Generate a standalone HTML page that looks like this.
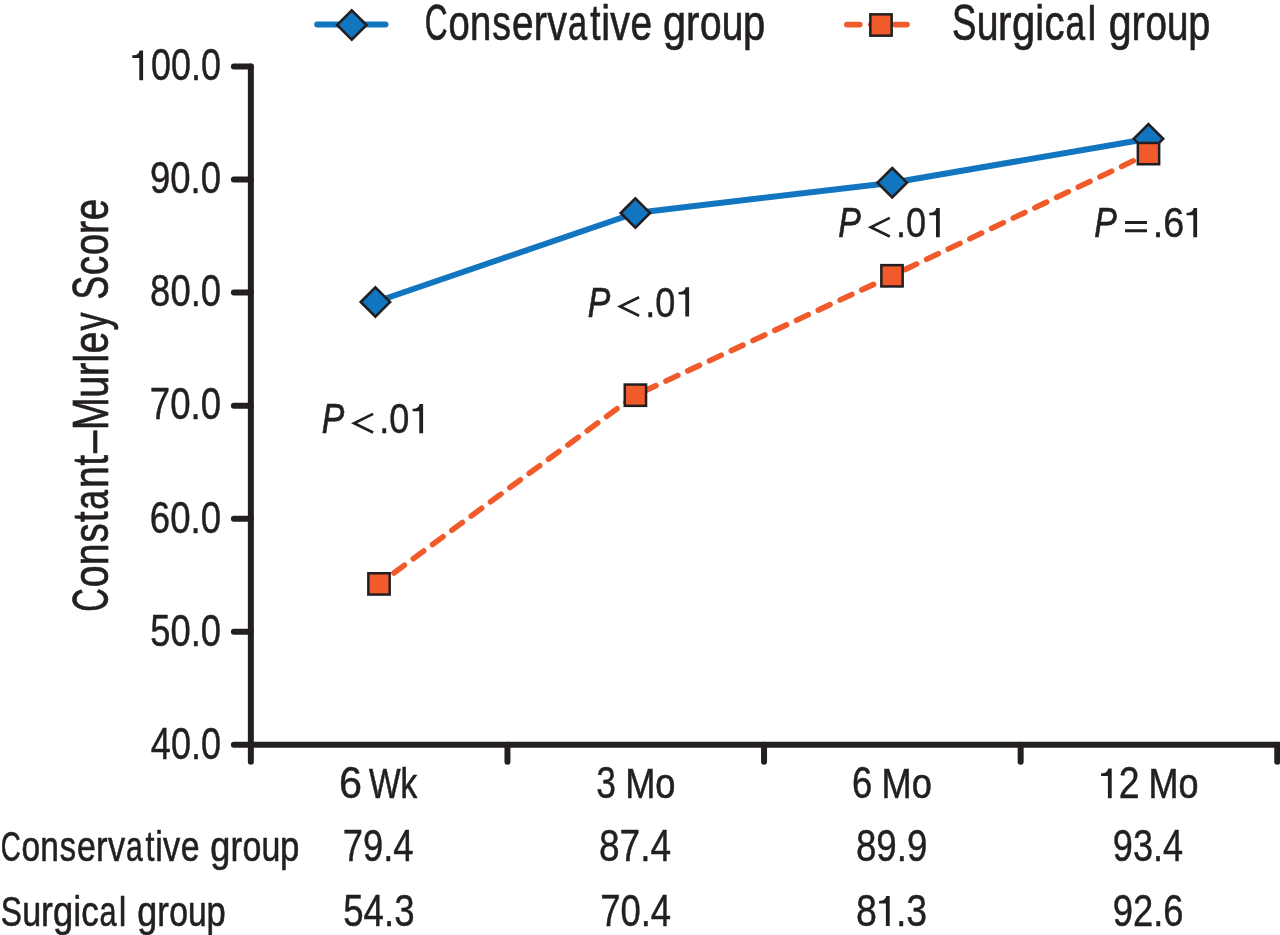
<!DOCTYPE html>
<html><head><meta charset="utf-8"><title>Constant-Murley Score</title>
<style>
html,body{margin:0;padding:0;background:#fff;}
body{width:1280px;height:935px;overflow:hidden;}
svg{display:block;will-change:transform;}
text{font-family:"Liberation Sans",sans-serif;fill:#231f20;}
.ax path{stroke:#231f20;stroke-width:6;stroke-linecap:round;fill:none;}
</style></head><body>
<svg width="1280" height="935" viewBox="0 0 1280 935">
<rect width="1280" height="935" fill="#fff"/>
<g class="ax">
<path d="M250.85 66.5V761.8" />
<path d="M250.85 744.8H1290" stroke-linecap="butt"/>
<path d="M233.9 66.50H250.85"/>
<path d="M233.9 179.55H250.85"/>
<path d="M233.9 292.60H250.85"/>
<path d="M233.9 405.65H250.85"/>
<path d="M233.9 518.70H250.85"/>
<path d="M233.9 631.75H250.85"/>
<path d="M233.9 744.80H250.85"/>
<path d="M507.45 744.8V761.8"/>
<path d="M764.05 744.8V761.8"/>
<path d="M1020.65 744.8V761.8"/>
<path d="M1277.25 744.8V761.8"/>
</g>
<g>
<polyline points="375.4,302.0 635.4,213.0 892.2,182.7 1148.5,138.8" fill="none" stroke="#1275c0" stroke-width="6" stroke-linejoin="round"/>
<path d="M379 583.9L635.4 395.2" fill="none" stroke="#f15a2a" stroke-width="5.6" stroke-linecap="round" stroke-dasharray="13 11" stroke-dashoffset="5.5"/>
<path d="M635.4 395.2L892 275.8" fill="none" stroke="#f15a2a" stroke-width="5.6" stroke-linecap="round" stroke-dasharray="13 11" stroke-dashoffset="14.3"/>
<path d="M892 275.8L1148.5 153.6" fill="none" stroke="#f15a2a" stroke-width="5.6" stroke-linecap="round" stroke-dasharray="13 11" stroke-dashoffset="9.7"/>
<path d="M375.4 287.3L390.09999999999997 302.0L375.4 316.7L360.7 302.0Z" fill="#1275c0" stroke="#231f20" stroke-width="2.6" stroke-linejoin="miter"/>
<path d="M635.4 198.3L650.1 213.0L635.4 227.7L620.6999999999999 213.0Z" fill="#1275c0" stroke="#231f20" stroke-width="2.6" stroke-linejoin="miter"/>
<path d="M892.2 168.0L906.9000000000001 182.7L892.2 197.39999999999998L877.5 182.7Z" fill="#1275c0" stroke="#231f20" stroke-width="2.6" stroke-linejoin="miter"/>
<path d="M1148.5 124.10000000000001L1163.2 138.8L1148.5 153.5L1133.8 138.8Z" fill="#1275c0" stroke="#231f20" stroke-width="2.6" stroke-linejoin="miter"/>
<rect x="368.35" y="573.25" width="21.3" height="21.3" fill="#f15a2a" stroke="#231f20" stroke-width="2.5"/>
<rect x="624.75" y="384.55" width="21.3" height="21.3" fill="#f15a2a" stroke="#231f20" stroke-width="2.5"/>
<rect x="881.35" y="265.15000000000003" width="21.3" height="21.3" fill="#f15a2a" stroke="#231f20" stroke-width="2.5"/>
<rect x="1137.85" y="142.95" width="21.3" height="21.3" fill="#f15a2a" stroke="#231f20" stroke-width="2.5"/>
<path d="M317.2 24.6H385.5" stroke="#1275c0" stroke-width="6" stroke-linecap="round" fill="none"/>
<path d="M351.8 10.3L366.5 25L351.8 39.7L337.1 25Z" fill="#1275c0" stroke="#231f20" stroke-width="2.6" stroke-linejoin="miter"/>
<path d="M846.8 24.6H907" stroke="#f15a2a" stroke-width="5.6" stroke-linecap="round" stroke-dasharray="13 11" fill="none"/>
<rect x="870.35" y="14.35" width="21.3" height="21.3" fill="#f15a2a" stroke="#231f20" stroke-width="2.5"/>
</g>
<g>
<path d="M143.10 80.30V50.40H139.60C139.09 53.39 137.20 55.33 132.30 55.33V57.88H139.30V80.30Z" fill="#231f20"/>
<text transform="translate(151.10,80.30) scale(0.8257,1)" font-size="43.5" stroke="#231f20" stroke-width="0.45">00.0</text>
<text transform="translate(149.99,193.35) scale(0.8390,1)" font-size="43.5" stroke="#231f20" stroke-width="0.45">90.0</text>
<text transform="translate(150.12,306.40) scale(0.8375,1)" font-size="43.5" stroke="#231f20" stroke-width="0.45">80.0</text>
<text transform="translate(149.82,419.45) scale(0.8410,1)" font-size="43.5" stroke="#231f20" stroke-width="0.45">70.0</text>
<text transform="translate(149.84,532.50) scale(0.8408,1)" font-size="43.5" stroke="#231f20" stroke-width="0.45">60.0</text>
<text transform="translate(150.24,645.55) scale(0.8360,1)" font-size="43.5" stroke="#231f20" stroke-width="0.45">50.0</text>
<text transform="translate(150.87,758.60) scale(0.8284,1)" font-size="43.5" stroke="#231f20" stroke-width="0.45">40.0</text>
<text transform="translate(339.10,798.30) scale(0.9516,1)" font-size="43.5" stroke="#231f20" stroke-width="0.45">6</text>
<text transform="translate(368.95,798.30) scale(0.7795,1)" font-size="43"><tspan stroke="#231f20" stroke-width="0.6">Wk</tspan></text>
<text transform="translate(596.25,798.30) scale(0.8146,1)" font-size="43.5" stroke="#231f20" stroke-width="0.45">3</text>
<text transform="translate(625.13,798.30) scale(0.8419,1)" font-size="43"><tspan stroke="#231f20" stroke-width="0.6">Mo</tspan></text>
<text transform="translate(852.05,798.30) scale(0.8370,1)" font-size="43.5" stroke="#231f20" stroke-width="0.45">6</text>
<text transform="translate(881.54,798.30) scale(0.8401,1)" font-size="43"><tspan stroke="#231f20" stroke-width="0.6">Mo</tspan></text>
<path d="M1111.70 798.30V768.40H1108.20C1107.70 771.39 1105.86 773.33 1101.10 773.33V775.88H1107.90V798.30Z" fill="#231f20"/>
<text transform="translate(1118.87,798.30) scale(0.8604,1)" font-size="43.5" stroke="#231f20" stroke-width="0.45">2</text>
<text transform="translate(1148.45,798.30) scale(0.8364,1)" font-size="43"><tspan stroke="#231f20" stroke-width="0.6">Mo</tspan></text>
<text transform="translate(0.73,861.30) scale(0.6474,1)" font-size="42.8" stroke="#231f20" stroke-width="0.6">C</text>
<text transform="translate(21.55,861.30) scale(0.7822,1)" font-size="42.8" stroke="#231f20" stroke-width="0.6">o</text>
<text transform="translate(40.33,861.30) scale(0.7832,1)" font-size="42.8" stroke="#231f20" stroke-width="0.6">n</text>
<text transform="translate(59.76,861.30) scale(0.7630,1)" font-size="42.8" stroke="#231f20" stroke-width="0.6">s</text>
<text transform="translate(77.00,861.30) scale(0.7914,1)" font-size="42.8" stroke="#231f20" stroke-width="0.6">e</text>
<text transform="translate(95.99,861.30) scale(0.8098,1)" font-size="42.8" stroke="#231f20" stroke-width="0.6">r</text>
<text transform="translate(107.93,861.30) scale(0.8025,1)" font-size="42.8" stroke="#231f20" stroke-width="0.6">v</text>
<text transform="translate(126.02,861.30) scale(0.7031,1)" font-size="42.8" stroke="#231f20" stroke-width="0.6">a</text>
<text transform="translate(145.45,861.30) scale(0.7529,1)" font-size="42.8" stroke="#231f20" stroke-width="0.6">t</text>
<text transform="translate(155.14,861.30) scale(0.8000,1)" font-size="42.8" stroke="#231f20" stroke-width="0.6">i</text>
<text transform="translate(162.97,861.30) scale(0.8025,1)" font-size="42.8" stroke="#231f20" stroke-width="0.6">v</text>
<text transform="translate(180.73,861.30) scale(0.7914,1)" font-size="42.8" stroke="#231f20" stroke-width="0.6">e</text>
<text transform="translate(210.32,861.30) scale(0.8447,1)" font-size="42.8" stroke="#231f20" stroke-width="0.6">g</text>
<text transform="translate(230.39,861.30) scale(0.8196,1)" font-size="42.8" stroke="#231f20" stroke-width="0.6">r</text>
<text transform="translate(242.49,861.30) scale(0.7915,1)" font-size="42.8" stroke="#231f20" stroke-width="0.6">o</text>
<text transform="translate(261.53,861.30) scale(0.7925,1)" font-size="42.8" stroke="#231f20" stroke-width="0.6">u</text>
<text transform="translate(280.08,861.30) scale(0.8127,1)" font-size="42.8" stroke="#231f20" stroke-width="0.6">p</text>
<text transform="translate(342.84,861.30) scale(0.8354,1)" font-size="43.5" stroke="#231f20" stroke-width="0.45">79.4</text>
<text transform="translate(598.99,861.30) scale(0.8515,1)" font-size="43.5" stroke="#231f20" stroke-width="0.45">87.4</text>
<text transform="translate(855.91,861.30) scale(0.8437,1)" font-size="43.5" stroke="#231f20" stroke-width="0.45">89.9</text>
<text transform="translate(1112.81,861.30) scale(0.8297,1)" font-size="43.5" stroke="#231f20" stroke-width="0.45">93.4</text>
<text transform="translate(0.79,926.00) scale(0.7438,1)" font-size="42.8" stroke="#231f20" stroke-width="0.6">S</text>
<text transform="translate(22.29,926.00) scale(0.7982,1)" font-size="42.8" stroke="#231f20" stroke-width="0.6">u</text>
<text transform="translate(40.88,926.00) scale(0.8257,1)" font-size="42.8" stroke="#231f20" stroke-width="0.6">r</text>
<text transform="translate(52.96,926.00) scale(0.8508,1)" font-size="42.8" stroke="#231f20" stroke-width="0.6">g</text>
<text transform="translate(73.43,926.00) scale(0.8000,1)" font-size="42.8" stroke="#231f20" stroke-width="0.6">i</text>
<text transform="translate(81.31,926.00) scale(0.8153,1)" font-size="42.8" stroke="#231f20" stroke-width="0.6">c</text>
<text transform="translate(99.58,926.00) scale(0.7166,1)" font-size="42.8" stroke="#231f20" stroke-width="0.6">a</text>
<text transform="translate(118.79,926.00) scale(0.8000,0.955)" font-size="42.8" stroke="#231f20" stroke-width="0.6">l</text>
<text transform="translate(137.23,926.00) scale(0.8387,1)" font-size="42.8" stroke="#231f20" stroke-width="0.6">g</text>
<text transform="translate(157.16,926.00) scale(0.8137,1)" font-size="42.8" stroke="#231f20" stroke-width="0.6">r</text>
<text transform="translate(169.17,926.00) scale(0.7858,1)" font-size="42.8" stroke="#231f20" stroke-width="0.6">o</text>
<text transform="translate(188.08,926.00) scale(0.7868,1)" font-size="42.8" stroke="#231f20" stroke-width="0.6">u</text>
<text transform="translate(206.50,926.00) scale(0.8069,1)" font-size="42.8" stroke="#231f20" stroke-width="0.6">p</text>
<text transform="translate(343.23,926.00) scale(0.8431,1)" font-size="43.5" stroke="#231f20" stroke-width="0.45">54.3</text>
<text transform="translate(600.13,926.00) scale(0.8379,1)" font-size="43.5" stroke="#231f20" stroke-width="0.45">70.4</text>
<text transform="translate(855.97,926.00) scale(0.8622,1)" font-size="43.5" stroke="#231f20" stroke-width="0.45">8</text>
<path d="M889.70 926.00V896.10H886.20C885.70 899.09 883.86 901.03 879.10 901.03V903.58H885.90V926.00Z" fill="#231f20"/>
<text transform="translate(895.88,926.00) scale(0.8620,1)" font-size="43.5" stroke="#231f20" stroke-width="0.45">.3</text>
<text transform="translate(1112.79,926.00) scale(0.8363,1)" font-size="43.5" stroke="#231f20" stroke-width="0.45">92.6</text>
<text transform="translate(424.77,40.10) scale(0.6395,1)" font-size="49.5" stroke="#231f20" stroke-width="0.7">C</text>
<text transform="translate(448.57,40.10) scale(0.7726,1)" font-size="49.5" stroke="#231f20" stroke-width="0.7">o</text>
<text transform="translate(470.03,40.10) scale(0.7735,1)" font-size="49.5" stroke="#231f20" stroke-width="0.7">n</text>
<text transform="translate(492.24,40.10) scale(0.7536,1)" font-size="49.5" stroke="#231f20" stroke-width="0.7">s</text>
<text transform="translate(511.95,40.10) scale(0.7817,1)" font-size="49.5" stroke="#231f20" stroke-width="0.7">e</text>
<text transform="translate(533.66,40.10) scale(0.7995,1)" font-size="49.5" stroke="#231f20" stroke-width="0.7">r</text>
<text transform="translate(547.31,40.10) scale(0.7927,1)" font-size="49.5" stroke="#231f20" stroke-width="0.7">v</text>
<text transform="translate(567.98,40.10) scale(0.6945,1)" font-size="49.5" stroke="#231f20" stroke-width="0.7">a</text>
<text transform="translate(590.19,40.10) scale(0.7433,1)" font-size="49.5" stroke="#231f20" stroke-width="0.7">t</text>
<text transform="translate(601.21,40.10) scale(0.8000,1)" font-size="49.5" stroke="#231f20" stroke-width="0.7">i</text>
<text transform="translate(610.23,40.10) scale(0.7927,1)" font-size="49.5" stroke="#231f20" stroke-width="0.7">v</text>
<text transform="translate(630.52,40.10) scale(0.7817,1)" font-size="49.5" stroke="#231f20" stroke-width="0.7">e</text>
<text transform="translate(663.04,40.10) scale(0.8371,1)" font-size="49.5" stroke="#231f20" stroke-width="0.7">g</text>
<text transform="translate(686.05,40.10) scale(0.8119,1)" font-size="49.5" stroke="#231f20" stroke-width="0.7">r</text>
<text transform="translate(699.92,40.10) scale(0.7843,1)" font-size="49.5" stroke="#231f20" stroke-width="0.7">o</text>
<text transform="translate(721.75,40.10) scale(0.7852,1)" font-size="49.5" stroke="#231f20" stroke-width="0.7">u</text>
<text transform="translate(743.02,40.10) scale(0.8053,1)" font-size="49.5" stroke="#231f20" stroke-width="0.7">p</text>
<text transform="translate(952.02,40.10) scale(0.7378,1)" font-size="49.5" stroke="#231f20" stroke-width="0.7">S</text>
<text transform="translate(976.69,40.10) scale(0.7916,1)" font-size="49.5" stroke="#231f20" stroke-width="0.7">u</text>
<text transform="translate(998.02,40.10) scale(0.8186,1)" font-size="49.5" stroke="#231f20" stroke-width="0.7">r</text>
<text transform="translate(1011.89,40.10) scale(0.8438,1)" font-size="49.5" stroke="#231f20" stroke-width="0.7">g</text>
<text transform="translate(1035.34,40.10) scale(0.8000,1)" font-size="49.5" stroke="#231f20" stroke-width="0.7">i</text>
<text transform="translate(1044.42,40.10) scale(0.8086,1)" font-size="49.5" stroke="#231f20" stroke-width="0.7">c</text>
<text transform="translate(1065.40,40.10) scale(0.7107,1)" font-size="49.5" stroke="#231f20" stroke-width="0.7">a</text>
<text transform="translate(1087.40,40.10) scale(0.8000,0.955)" font-size="49.5" stroke="#231f20" stroke-width="0.7">l</text>
<text transform="translate(1108.75,40.10) scale(0.8318,1)" font-size="49.5" stroke="#231f20" stroke-width="0.7">g</text>
<text transform="translate(1131.62,40.10) scale(0.8067,1)" font-size="49.5" stroke="#231f20" stroke-width="0.7">r</text>
<text transform="translate(1145.41,40.10) scale(0.7794,1)" font-size="49.5" stroke="#231f20" stroke-width="0.7">o</text>
<text transform="translate(1167.11,40.10) scale(0.7803,1)" font-size="49.5" stroke="#231f20" stroke-width="0.7">u</text>
<text transform="translate(1188.25,40.10) scale(0.8003,1)" font-size="49.5" stroke="#231f20" stroke-width="0.7">p</text>
<text transform="translate(321.66,433.20) scale(0.7957,1)" font-size="42.5" font-style="italic"><tspan stroke="#231f20" stroke-width="0.7">P</tspan></text>
<path d="M373.1 413.9L354.1 423.2L373.1 432.5" stroke="#231f20" stroke-width="2.7" fill="none" stroke-linejoin="miter"/>
<text transform="translate(379.30,433.20) scale(0.8494,1)" font-size="42.5" stroke="#231f20" stroke-width="0.45">.0</text>
<path d="M423.10 433.20V403.90H419.60C419.10 406.83 417.29 408.73 412.60 408.73V411.22H419.30V433.20Z" fill="#231f20"/>
<text transform="translate(587.66,316.50) scale(0.7957,1)" font-size="42.5" font-style="italic"><tspan stroke="#231f20" stroke-width="0.7">P</tspan></text>
<path d="M639.1 297.2L620.1 306.5L639.1 315.8" stroke="#231f20" stroke-width="2.7" fill="none" stroke-linejoin="miter"/>
<text transform="translate(645.30,316.50) scale(0.8494,1)" font-size="42.5" stroke="#231f20" stroke-width="0.45">.0</text>
<path d="M689.10 316.50V287.20H685.60C685.10 290.13 683.29 292.03 678.60 292.03V294.52H685.30V316.50Z" fill="#231f20"/>
<text transform="translate(838.36,237.20) scale(0.7957,1)" font-size="42.5" font-style="italic"><tspan stroke="#231f20" stroke-width="0.7">P</tspan></text>
<path d="M889.8 217.9L870.8 227.2L889.8 236.5" stroke="#231f20" stroke-width="2.7" fill="none" stroke-linejoin="miter"/>
<text transform="translate(896.00,237.20) scale(0.8494,1)" font-size="42.5" stroke="#231f20" stroke-width="0.45">.0</text>
<path d="M939.80 237.20V207.90H936.30C935.80 210.83 933.99 212.73 929.30 212.73V215.22H936.00V237.20Z" fill="#231f20"/>
<text transform="translate(1094.16,237.20) scale(0.7957,1)" font-size="42.5" font-style="italic"><tspan stroke="#231f20" stroke-width="0.7">P</tspan></text>
<path d="M1125.1 222.4h21.9M1125.1 230.7h21.9" stroke="#231f20" stroke-width="3" fill="none"/>
<text transform="translate(1152.65,237.20) scale(0.8890,1)" font-size="42.5" stroke="#231f20" stroke-width="0.45">.6</text>
<path d="M1197.10 237.20V207.90H1193.60C1193.10 210.83 1191.29 212.73 1186.60 212.73V215.22H1193.30V237.20Z" fill="#231f20"/>
<text transform="translate(108.00,611.77) rotate(-90) scale(0.6449,1)" font-size="50.4" stroke="#231f20" stroke-width="0.7">C</text>
<text transform="translate(108.00,587.36) rotate(-90) scale(0.7791,1)" font-size="50.4" stroke="#231f20" stroke-width="0.7">o</text>
<text transform="translate(108.00,565.34) rotate(-90) scale(0.7801,1)" font-size="50.4" stroke="#231f20" stroke-width="0.7">n</text>
<text transform="translate(108.00,542.55) rotate(-90) scale(0.7600,1)" font-size="50.4" stroke="#231f20" stroke-width="0.7">s</text>
<text transform="translate(108.00,521.93) rotate(-90) scale(0.7501,1)" font-size="50.4" stroke="#231f20" stroke-width="0.7">t</text>
<text transform="translate(108.00,509.78) rotate(-90) scale(0.7004,1)" font-size="50.4" stroke="#231f20" stroke-width="0.7">a</text>
<text transform="translate(108.00,487.91) rotate(-90) scale(0.7801,1)" font-size="50.4" stroke="#231f20" stroke-width="0.7">n</text>
<text transform="translate(108.00,465.45) rotate(-90) scale(0.7501,1)" font-size="50.4" stroke="#231f20" stroke-width="0.7">t</text>
<text transform="translate(108.00,453.03) rotate(-90) scale(0.7970,1)" font-size="50.4" stroke="#231f20" stroke-width="0.7">–</text>
<text transform="translate(108.00,430.13) rotate(-90) scale(0.7862,1)" font-size="50.4" stroke="#231f20" stroke-width="0.7">M</text>
<text transform="translate(108.00,397.77) rotate(-90) scale(0.7801,1)" font-size="50.4" stroke="#231f20" stroke-width="0.7">u</text>
<text transform="translate(108.00,376.36) rotate(-90) scale(0.8067,1)" font-size="50.4" stroke="#231f20" stroke-width="0.7">r</text>
<text transform="translate(108.00,362.75) rotate(-90) scale(0.8000,0.955)" font-size="50.4" stroke="#231f20" stroke-width="0.7">l</text>
<text transform="translate(108.00,353.49) rotate(-90) scale(0.7883,1)" font-size="50.4" stroke="#231f20" stroke-width="0.7">e</text>
<text transform="translate(108.00,330.54) rotate(-90) scale(0.7136,1)" font-size="50.4" stroke="#231f20" stroke-width="0.7">y</text>
<text transform="translate(108.00,299.53) rotate(-90) scale(0.7032,1)" font-size="50.4" stroke="#231f20" stroke-width="0.7">S</text>
<text transform="translate(108.00,275.14) rotate(-90) scale(0.7706,1)" font-size="50.4" stroke="#231f20" stroke-width="0.7">c</text>
<text transform="translate(108.00,255.11) rotate(-90) scale(0.7535,1)" font-size="50.4" stroke="#231f20" stroke-width="0.7">o</text>
<text transform="translate(108.00,233.88) rotate(-90) scale(0.7796,1)" font-size="50.4" stroke="#231f20" stroke-width="0.7">r</text>
<text transform="translate(108.00,220.34) rotate(-90) scale(0.7624,1)" font-size="50.4" stroke="#231f20" stroke-width="0.7">e</text>
</g>
</svg>
</body></html>
